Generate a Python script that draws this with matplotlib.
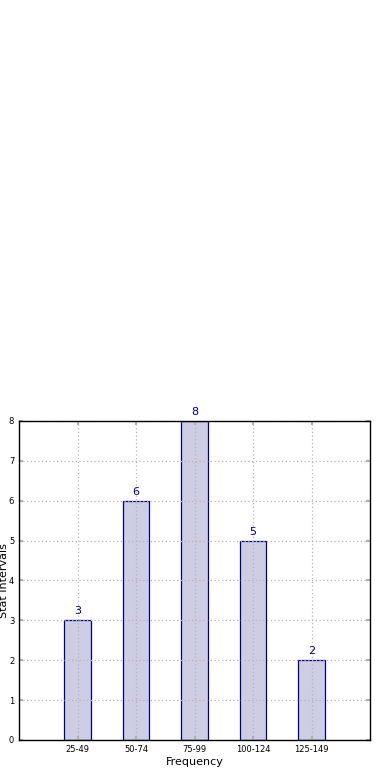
import matplotlib
matplotlib.use("Agg")
import matplotlib.pyplot as plt
import numpy as np

categories = ["25-49", "50-74", "75-99", "100-124", "125-149"]
values = [3, 6, 8, 5, 2]

fig = plt.figure(figsize=(3.9, 7.8), dpi=100)
fig.patch.set_facecolor("white")
ax = fig.add_axes([0.049, 0.0513, 0.9, 0.409])

x = np.arange(len(categories))
ax.bar(x, values, width=0.45, color="#cdcde4", edgecolor="#000080", linewidth=0.9, zorder=1)
for xi, v in zip(x, values):
    ax.text(xi, v + 0.1, str(v), ha="center", va="bottom", color="#000080", fontsize=8, zorder=4)

ax.set_xlim(-1, 5)
ax.set_ylim(0, 8)
ax.set_xticks(x)
ax.set_xticklabels(categories, fontsize=6)
ax.set_yticks(range(0, 9))
ax.tick_params(axis="y", labelsize=6)
ax.tick_params(direction="in", top=True, right=True, length=3, color="#b0b0b0", width=1.5)
ax.set_axisbelow("line")
ax.grid(True, linestyle=(0, (1, 2)), color="#b5b5b5", linewidth=0.9)
for sp in ax.spines.values():
    sp.set_linewidth(1)
    sp.set_color("black")
    sp.set_zorder(3)
ax.set_xlabel("Frequency", fontsize=8, labelpad=2)
ax.set_ylabel("Stat Intervals", fontsize=8, labelpad=0)

fig.savefig("out.png", dpi=100, facecolor="white")
